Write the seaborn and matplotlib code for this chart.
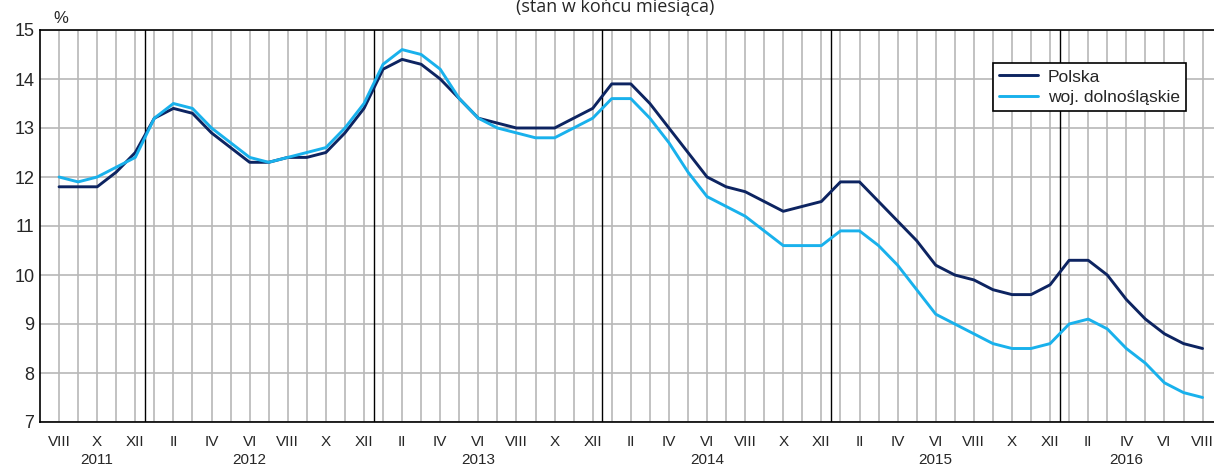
import pandas as pd
import matplotlib.pyplot as plt
import seaborn as sns

# months VIII 2011 .. VIII 2016
roman = ['I', 'II', 'III', 'IV', 'V', 'VI', 'VII', 'VIII', 'IX', 'X', 'XI', 'XII']
years = [2011, 2012, 2013, 2014, 2015, 2016]

polska = [11.8, 11.8, 11.8, 12.1, 12.5,
          13.2, 13.4, 13.3, 12.9, 12.6, 12.3, 12.3, 12.4, 12.4, 12.5, 12.9, 13.4,
          14.2, 14.4, 14.3, 14.0, 13.6, 13.2, 13.1, 13.0, 13.0, 13.0, 13.2, 13.4,
          13.9, 13.9, 13.5, 13.0, 12.5, 12.0, 11.8, 11.7, 11.5, 11.3, 11.4, 11.5,
          11.9, 11.9, 11.5, 11.1, 10.7, 10.2, 10.0, 9.9, 9.7, 9.6, 9.6, 9.8,
          10.3, 10.3, 10.0, 9.5, 9.1, 8.8, 8.6, 8.5]
dolnoslaskie = [12.0, 11.9, 12.0, 12.2, 12.4,
                13.2, 13.5, 13.4, 13.0, 12.7, 12.4, 12.3, 12.4, 12.5, 12.6, 13.0, 13.5,
                14.3, 14.6, 14.5, 14.2, 13.6, 13.2, 13.0, 12.9, 12.8, 12.8, 13.0, 13.2,
                13.6, 13.6, 13.2, 12.7, 12.1, 11.6, 11.4, 11.2, 10.9, 10.6, 10.6, 10.6,
                10.9, 10.9, 10.6, 10.2, 9.7, 9.2, 9.0, 8.8, 8.6, 8.5, 8.5, 8.6,
                9.0, 9.1, 8.9, 8.5, 8.2, 7.8, 7.6, 7.5]

# (year, month) for each point
months = []
for y in years:
    for m in range(1, 13):
        if (y == 2011 and m < 8) or (y == 2016 and m > 8):
            continue
        months.append((y, m))

n = len(months)
df = pd.DataFrame({
    'idx': list(range(n)) * 2,
    'value': polska + dolnoslaskie,
    'series': ['Polska'] * n + ['woj. dolnośląskie'] * n,
})

sns.set_style('white')
plt.rcParams['font.family'] = ['Liberation Sans', 'DejaVu Sans']

fig = plt.figure(figsize=(12.14, 4.67), dpi=100)
ax = fig.add_axes([40 / 1214, 45 / 467, 1174 / 1214, 392 / 467])

ax.yaxis.grid(True, color='#b8b8b8', lw=1.2)
for i in range(n):
    ax.axvline(i, color='#b8b8b8', lw=1.2, zorder=0)
# year separators
for i in range(n - 1):
    if months[i][1] == 12:
        ax.axvline(i + 0.5, color='black', lw=1, zorder=1)

sns.lineplot(data=df, x='idx', y='value', hue='series',
             palette=['#0d2461', '#19b1ec'], linewidth=2.1, ax=ax, zorder=3)

ax.set_xlim(-1, n - 0.4)
ax.set_ylim(7, 15)
ax.set_yticks(range(7, 16))
ax.set_xticks(range(n))
ax.set_xticklabels([roman[m - 1] if i % 2 == 0 else '' for i, (y, m) in enumerate(months)],
                   fontsize=11)
ax.tick_params(axis='x', direction='in', length=4, width=1, pad=9)
ax.tick_params(axis='y', labelsize=13, length=0, pad=4)
ax.set_xlabel('')
ax.set_ylabel('')

for s in ['left', 'bottom', 'top']:
    ax.spines[s].set_color('black')
    ax.spines[s].set_linewidth(1.2)
ax.spines['right'].set_visible(False)

# year labels under the month labels
year_pos = {2011: 2, 2012: 10, 2013: 22, 2014: 34, 2015: 46, 2016: 56}
for y, p in year_pos.items():
    ax.text(p, -0.08, str(y), transform=ax.get_xaxis_transform(),
            ha='center', va='top', fontsize=11)

ax.text(-0.3, 1.01, '%', transform=ax.get_xaxis_transform(), ha='left', va='bottom', fontsize=12)

fig.text(615 / 1214, 1 - 12 / 467, '(stan w końcu miesiąca)', ha='center', va='baseline',
         fontsize=13, family=['Open Sans', 'DejaVu Sans'])

leg = ax.legend(loc='upper left', bbox_to_anchor=(0.812, 0.915), fontsize=12.5, frameon=True,
                fancybox=False, edgecolor='black', handlelength=2.2, borderpad=0.35,
                labelspacing=0.3, handletextpad=0.6, borderaxespad=0)
leg.get_frame().set_linewidth(1.2)
leg.get_frame().set_alpha(1)

fig.savefig('out.png', dpi=100)
